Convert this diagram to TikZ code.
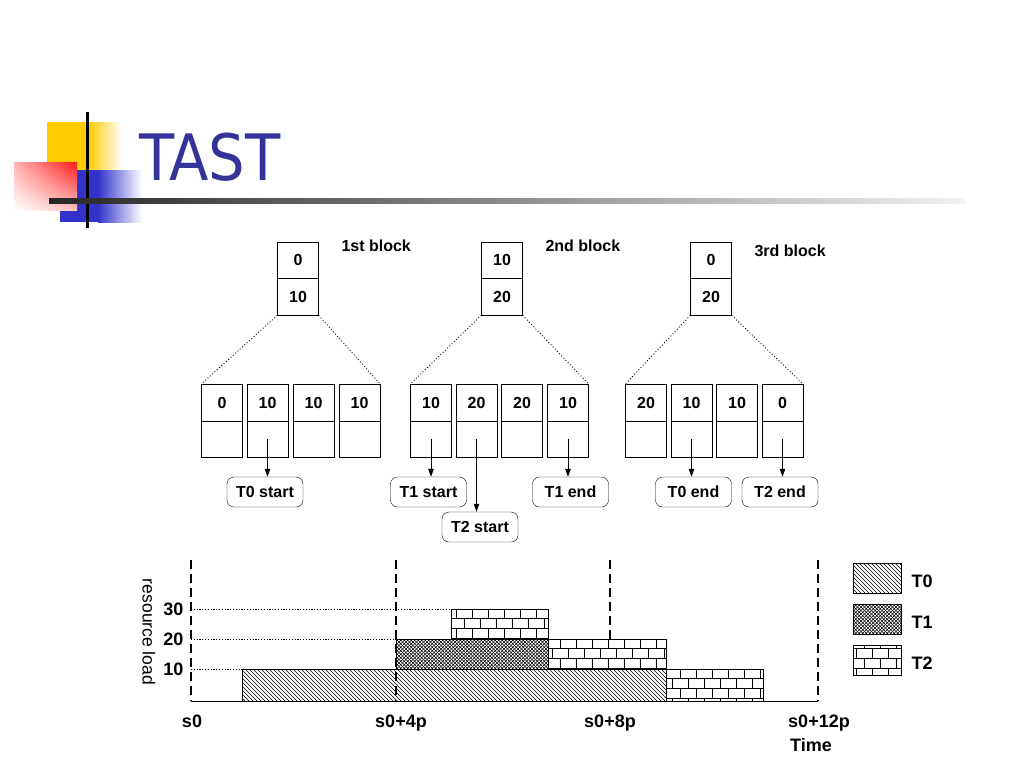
\documentclass[tikz,border=0pt]{standalone}
\usepackage{fontspec}
\setmainfont{Liberation Sans}
\newfontfamily\titlefont{DejaVu Sans Condensed}
\usetikzlibrary{positioning,arrows.meta,patterns,shadings,shapes.misc}
\definecolor{titleblue}{RGB}{51,51,153}
\definecolor{logoyellow}{RGB}{255,204,0}
\definecolor{logored}{RGB}{255,25,25}
\definecolor{logoblue}{RGB}{51,51,204}
% fill patterns of the three tasks
\pgfdeclarepatternformonly{tzero}{\pgfqpoint{-1pt}{-1pt}}{\pgfqpoint{5pt}{5pt}}{\pgfqpoint{4pt}{4pt}}{
    \pgfsetlinewidth{0.55pt}
    \pgfpathmoveto{\pgfqpoint{0pt}{4pt}}\pgfpathlineto{\pgfqpoint{4pt}{0pt}}
    \pgfusepath{stroke}}
\pgfdeclarepatternformonly{tone}{\pgfqpoint{-1pt}{-1pt}}{\pgfqpoint{4.5pt}{4.5pt}}{\pgfqpoint{3.5pt}{3.5pt}}{
    \pgfsetlinewidth{0.55pt}
    \pgfpathmoveto{\pgfqpoint{0pt}{0pt}}\pgfpathlineto{\pgfqpoint{3.5pt}{3.5pt}}
    \pgfpathmoveto{\pgfqpoint{0pt}{3.5pt}}\pgfpathlineto{\pgfqpoint{3.5pt}{0pt}}
    \pgfusepath{stroke}}
\pgfdeclarepatternformonly{ttwo}{\pgfqpoint{-1pt}{-1pt}}{\pgfqpoint{17pt}{21pt}}{\pgfqpoint{16pt}{20pt}}{
    \pgfsetlinewidth{0.8pt}
    \pgfpathmoveto{\pgfqpoint{0pt}{0pt}}\pgfpathlineto{\pgfqpoint{16pt}{0pt}}
    \pgfpathmoveto{\pgfqpoint{0pt}{10pt}}\pgfpathlineto{\pgfqpoint{16pt}{10pt}}
    \pgfpathmoveto{\pgfqpoint{0pt}{0pt}}\pgfpathlineto{\pgfqpoint{0pt}{10pt}}
    \pgfpathmoveto{\pgfqpoint{8pt}{10pt}}\pgfpathlineto{\pgfqpoint{8pt}{20pt}}
    \pgfusepath{stroke}}
\tikzset{
    cell/.style = {
        draw,
        minimum width=41pt,
        minimum height=36.5pt,
        inner sep=0pt,
        font=\fontsize{16}{16}\selectfont\bfseries,
        },
    event/.style = {
        draw,
        rounded corners=7pt,
        minimum width=76pt,
        minimum height=30pt,
        inner sep=0pt,
        font=\fontsize{16}{16}\selectfont\bfseries,
        },
    blocklabel/.style = {
        anchor=west,
        font=\fontsize{16}{16}\selectfont\bfseries,
        },
    axislabel/.style = {
        font=\fontsize{18}{18}\selectfont\bfseries,
        },
    pointer/.style = {
        -{Triangle[length=8pt,width=5.5pt]},
        line width=0.8pt,
        },
    fan/.style = {
        line width=0.9pt,
        dash pattern=on 0.9pt off 2.2pt,
        },
    guide/.style = {
        line width=0.8pt,
        dash pattern=on 1.2pt off 1.6pt,
        },
    divider/.style = {
        line width=2.6pt,
        dash pattern=on 9pt off 5pt,
        },
    load/.style = {
        draw,
        line width=0.9pt,
        },
    legendbox/.style = {
        draw,
        line width=0.9pt,
        minimum width=48pt,
        minimum height=30pt,
        inner sep=0pt,
        },
}
\begin{document}
\begin{tikzpicture}[x=1pt,y=-1pt]
    \useasboundingbox (0,0) rectangle (1024,768);

    % logo
    \fill[logoyellow] (47,122) rectangle (88,178);
    \shade[left color=logoyellow, right color=white] (88,122) rectangle (122,178);
    \fill[logoblue] (60,170) rectangle (98,222);
    \shade[left color=logoblue, right color=white] (98,170) rectangle (142,222);
    \shade[upper right=logored, upper left=red!30, lower right=red!25, lower left=white] (14,162) rectangle (77,210);
    \draw[line width=3pt] (87,112) -- (87,228);
    \shade[left color=black!85, right color=black!5] (49,198.5) rectangle (965,203.5);
    \node[anchor=base west, inner sep=0pt, text=titleblue,
          font=\titlefont\fontsize{64}{64}\selectfont] (title) at (139,180) {TAST};

    % upper blocks
    \foreach \a/\b/\x/\lab/\ly [count=\i] in {0/10/298/1st block/246, 10/20/502/2nd block/246, 0/20/711/3rd block/251} {
        \node[cell] (blk\i) at (\x,260) {\a};
        \node[cell, below=0pt of blk\i] (blk\i l) {\b};
        \node[blocklabel] (lab\i) at (\x+40,\ly) {\lab};
    }

    % lower slots
    \foreach \v/\x [count=\i] in {0/222, 10/267.5, 10/313.5, 10/359.5, 10/431, 20/476.5, 20/522, 10/568, 20/646, 10/691.5, 10/737, 0/782.5} {
        \node[cell] (s\i) at (\x,402.5) {\v};
        \node[cell, below=0pt of s\i] (s\i l) {};
    }

    \draw[fan] (blk1l.south west) -- (s1.north west);
    \draw[fan] (blk1l.south east) -- (s4.north east);
    \draw[fan] (blk2l.south west) -- (s5.north west);
    \draw[fan] (blk2l.south east) -- (s8.north east);
    \draw[fan] (blk3l.south west) -- (s9.north west);
    \draw[fan] (blk3l.south east) -- (s12.north east);

    % events
    \node[event] (t0s) at (265,492) {T0 start};
    \node[event] (t1s) at (428.5,492) {T1 start};
    \node[event] (t2s) at (480,527) {T2 start};
    \node[event] (t1e) at (570.5,492) {T1 end};
    \node[event] (t0e) at (693.5,492) {T0 end};
    \node[event] (t2e) at (780,492) {T2 end};

    \draw[pointer] (s2l.center) -- (s2l.center |- t0s.north);
    \draw[pointer] (s5l.center) -- (s5l.center |- t1s.north);
    \draw[pointer] (s6l.center) -- (s6l.center |- t2s.north);
    \draw[pointer] (s8l.center) -- (s8l.center |- t1e.north);
    \draw[pointer] (s10l.center) -- (s10l.center |- t0e.north);
    \draw[pointer] (s12l.center) -- (s12l.center |- t2e.north);

    % load chart
    \draw[guide] (191,609) -- (451,609);
    \draw[guide] (191,639) -- (396,639);
    \draw[guide] (191,669) -- (242,669);
    \draw[divider] (610,560) -- (610,639);
    \fill[white] (242,669) rectangle (666,701);
    \draw[load, pattern=tzero] (242,669) rectangle (666,701);
    \draw[load, pattern=tone] (396,639) rectangle (548,669);
    \draw[load, pattern=ttwo] (451,609) rectangle (548,639);
    \draw[load, pattern=ttwo] (548,639) rectangle (666,669);
    \draw[load, pattern=ttwo] (666,669) rectangle (763,701);
    \draw[line width=1pt] (191,701) -- (818,701);
    \foreach \x in {191,396,818}
        \draw[divider] (\x,560) -- (\x,701);

    \node[axislabel, anchor=east] (y30) at (187,609) {30};
    \node[axislabel, anchor=east] (y20) at (187,639) {20};
    \node[axislabel, anchor=east] (y10) at (187,669) {10};
    \node[rotate=-90, font=\fontsize{17.5}{17.5}\selectfont] (ylab) at (149,632) {resource load};
    \node[axislabel, anchor=base] (x0) at (192,727) {s0};
    \node[axislabel, anchor=base] (x4) at (401,727) {s0+4p};
    \node[axislabel, anchor=base] (x8) at (610,727) {s0+8p};
    \node[axislabel, anchor=base] (x12) at (819,727) {s0+12p};
    \node[axislabel, anchor=base] (xlab) at (811,751) {Time};

    % legend
    \node[legendbox, pattern=tzero] (leg0) at (877,578) {};
    \node[legendbox, pattern=tone] (leg1) at (877,619) {};
    \node[legendbox, pattern=ttwo] (leg2) at (877,660) {};
    \node[axislabel, anchor=west] (legt0) at (908,581) {T0};
    \node[axislabel, anchor=west] (legt1) at (908,622) {T1};
    \node[axislabel, anchor=west] (legt2) at (908,663) {T2};
\end{tikzpicture}
\end{document}
